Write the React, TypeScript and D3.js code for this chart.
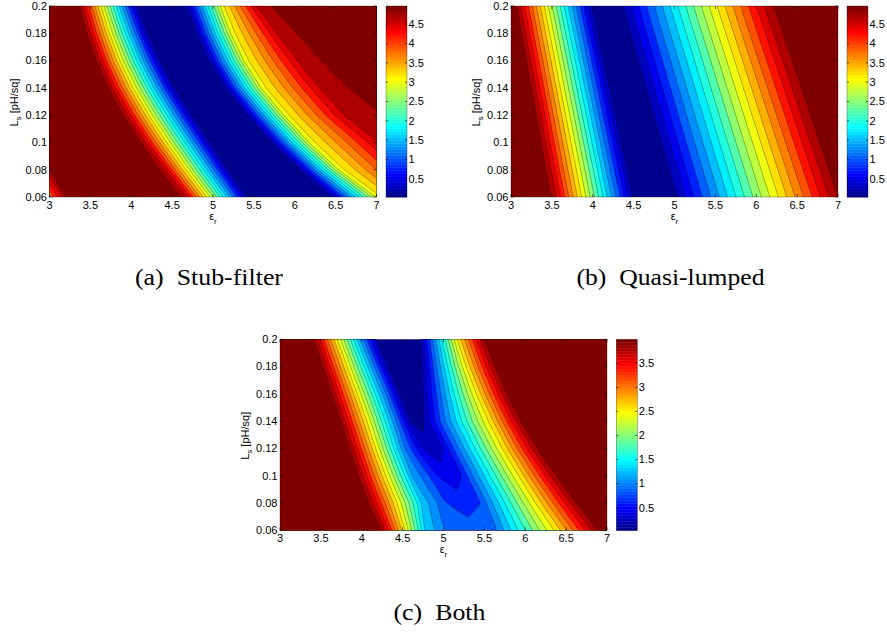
import React, { useMemo } from "react";
import * as d3 from "d3";

type Anchor = [number, number];

// Axis ticks
const epsTicks = [3, 3.5, 4, 4.5, 5, 5.5, 6, 6.5, 7];
const lsTicks = [0.06, 0.08, 0.1, 0.12, 0.14, 0.16, 0.18, 0.2];

// Sheet-inductance rows (pH/sq) at which each response profile is tabulated
const lsRows = [0.2, 0.18, 0.16, 0.14, 0.12, 0.1, 0.08, 0.06];

// Each row lists [epsilon_r, response] break points across the permittivity axis
const stubFilterRows: Anchor[][] = [
  [[3.0, 4.95], [3.18, 4.96], [3.373, 4.73], [4.07, 0.265], [4.375, 0.03], [4.68, 0.265], [5.11, 3.0], [5.53, 4.5], [5.68, 4.73], [7.0, 4.97]],
  [[3.0, 4.95], [3.23, 4.96], [3.462, 4.73], [4.2, 0.265], [4.5, 0.03], [4.8, 0.265], [5.24, 3.0], [5.78, 4.5], [6.0, 4.73], [7.0, 4.93]],
  [[3.0, 4.95], [3.29, 4.96], [3.577, 4.73], [4.35, 0.265], [4.65, 0.03], [4.95, 0.265], [5.4, 3.0], [6.03, 4.5], [6.3, 4.73], [7.0, 4.87]],
  [[3.0, 4.95], [3.36, 4.96], [3.728, 4.73], [4.53, 0.265], [4.84, 0.03], [5.15, 0.265], [5.61, 3.0], [6.3, 4.5], [6.63, 4.73], [7.0, 4.8]],
  [[3.0, 4.95], [3.45, 4.96], [3.911, 4.73], [4.74, 0.265], [5.08, 0.03], [5.42, 0.265], [5.89, 3.0], [6.6, 4.5], [7.06, 4.73], [7.5, 4.85]],
  [[3.0, 4.95], [3.56, 4.96], [4.128, 4.73], [4.96, 0.265], [5.34, 0.03], [5.72, 0.265], [6.2, 3.0], [7.02, 4.5], [7.2, 4.73], [7.6, 4.85]],
  [[3.0, 4.75], [3.05, 4.95], [4.372, 4.73], [5.18, 0.265], [5.625, 0.03], [6.07, 0.265], [6.56, 3.0], [7.38, 4.5], [7.5, 4.73], [7.8, 4.85]],
  [[3.0, 3.8], [3.25, 4.95], [4.637, 4.73], [5.41, 0.265], [5.93, 0.03], [6.45, 0.265], [7.02, 3.0], [7.77, 4.5], [7.9, 4.73], [8.2, 4.85]],
];

const quasiLumpedRows: Anchor[][] = [
  [[3.0, 4.97], [3.07, 4.73], [3.99, 0.265], [4.18, 0.03], [4.37, 0.265], [6.19, 4.73], [7.3, 4.97]],
  [[3.0, 4.95], [3.131, 4.73], [4.061, 0.265], [4.26, 0.03], [4.464, 0.265], [6.304, 4.73], [7.3, 4.95]],
  [[3.0, 4.94], [3.193, 4.73], [4.133, 0.265], [4.35, 0.03], [4.559, 0.265], [6.419, 4.73], [7.3, 4.94]],
  [[3.0, 4.93], [3.254, 4.73], [4.204, 0.265], [4.43, 0.03], [4.653, 0.265], [6.533, 4.73], [7.3, 4.93]],
  [[3.0, 4.92], [3.316, 4.73], [4.276, 0.265], [4.51, 0.03], [4.747, 0.265], [6.647, 4.73], [7.3, 4.92]],
  [[3.0, 4.91], [3.377, 4.73], [4.347, 0.265], [4.59, 0.03], [4.841, 0.265], [6.761, 4.73], [7.3, 4.91]],
  [[3.0, 4.9], [3.439, 4.73], [4.419, 0.265], [4.68, 0.03], [4.936, 0.265], [6.876, 4.73], [7.3, 4.9]],
  [[3.0, 4.9], [3.5, 4.73], [4.49, 0.265], [4.76, 0.03], [5.03, 0.265], [6.99, 4.73], [7.3, 4.9]],
];

const bothRows: Anchor[][] = [
  [[3.0, 3.98], [3.42, 3.81], [3.909, 1.5], [4.18, 0.219], [4.45, 0.03], [4.72, 0.219], [5.18, 2.55], [5.49, 3.81], [7.0, 4.0]],
  [[3.0, 3.97], [3.53, 3.81], [4.082, 1.3], [4.32, 0.219], [4.53, 0.05], [4.74, 0.219], [5.29, 2.55], [5.62, 3.81], [7.0, 3.99]],
  [[3.0, 3.96], [3.64, 3.81], [4.266, 1.1], [4.47, 0.219], [4.61, 0.09], [4.75, 0.219], [5.42, 2.55], [5.77, 3.81], [7.0, 3.98]],
  [[3.0, 3.95], [3.75, 3.81], [4.415, 1.0], [4.6, 0.219], [4.68, 0.15], [4.76, 0.219], [5.57, 2.55], [5.94, 3.81], [7.0, 3.97]],
  [[3.0, 3.94], [3.86, 3.81], [4.52, 1.0], [4.74, 0.408], [4.85, 0.31], [4.99, 0.408], [5.74, 2.55], [6.14, 3.81], [7.0, 3.96]],
  [[3.0, 3.93], [3.97, 3.81], [4.62, 1.15], [4.93, 0.597], [5.07, 0.5], [5.22, 0.597], [5.94, 2.55], [6.37, 3.81], [7.0, 3.95]],
  [[3.0, 3.92], [4.09, 3.81], [4.74, 1.3], [5.02, 0.8], [5.25, 0.69], [5.45, 0.786], [6.15, 2.55], [6.62, 3.81], [7.0, 3.94]],
  [[3.0, 3.91], [4.25, 3.81], [4.77, 1.35], [5.02, 0.975], [5.35, 0.88], [5.65, 0.975], [6.38, 2.55], [6.88, 3.81], [7.0, 3.93]],
];

// Colour limits of each panel and the colorbar ticks
const stubFilterRange: [number, number] = [0.03, 4.97];
const quasiLumpedRange: [number, number] = [0.03, 4.97];
const bothRange: [number, number] = [0.03, 4.0];
const fullBarTicks = [0.5, 1, 1.5, 2, 2.5, 3, 3.5, 4, 4.5];
const bothBarTicks = [0.5, 1, 1.5, 2, 2.5, 3, 3.5];
const levelCount = 20;

const EPS_DOMAIN: [number, number] = [3, 7];
const LS_DOMAIN: [number, number] = [0.06, 0.2];
const PLOT_W = 327;
const PLOT_H = 191;
const BAR_W = 21;
const NX = 328;
const NY = 192;
const SANS = "'Liberation Sans', Arial, Helvetica, sans-serif";
const SERIF = "'Liberation Serif', 'Times New Roman', serif";

// MATLAB-style jet colormap with m entries
function jetColormap(m: number): string[] {
  const n = Math.ceil(m / 4);
  const u: number[] = [];
  for (let i = 1; i <= n; i++) u.push(i / n);
  for (let i = 1; i < n; i++) u.push(1);
  for (let i = n; i >= 1; i--) u.push(i / n);
  const g0 = Math.ceil(n / 2) - (m % 4 === 1 ? 1 : 0);
  const table = Array.from({ length: m }, () => [0, 0, 0]);
  u.forEach((val, k) => {
    const gi = g0 + k + 1;
    const ri = gi + n;
    const bi = gi - n;
    if (ri >= 1 && ri <= m) table[ri - 1][0] = val;
    if (gi >= 1 && gi <= m) table[gi - 1][1] = val;
    if (bi >= 1 && bi <= m) table[bi - 1][2] = val;
  });
  return table.map(([r, g, b]) =>
    d3.rgb(Math.round(r * 255), Math.round(g * 255), Math.round(b * 255)).formatHex()
  );
}

const jet64 = jetColormap(64);
const bandColor = (k: number) => jet64[Math.round((k * 63) / levelCount)];

// Break points for an arbitrary L_s, blended between the two neighbouring rows
function profileAt(rows: Anchor[][], ls: number): Anchor[] {
  let i = 0;
  while (i < lsRows.length - 2 && ls < lsRows[i + 1]) i++;
  const t = (lsRows[i] - ls) / (lsRows[i] - lsRows[i + 1]);
  const a = rows[i];
  const b = rows[i + 1];
  return a.map((p, k) => [p[0] + t * (b[k][0] - p[0]), p[1] + t * (b[k][1] - p[1])] as Anchor);
}

function valueAt(p: Anchor[], e: number): number {
  if (e <= p[0][0]) return p[0][1];
  for (let k = 0; k < p.length - 1; k++) {
    const [x0, v0] = p[k];
    const [x1, v1] = p[k + 1];
    if (e <= x1) return x1 > x0 ? v0 + ((v1 - v0) * (e - x0)) / (x1 - x0) : v1;
  }
  return p[p.length - 1][1];
}

type PanelProps = {
  id: string;
  rows: Anchor[][];
  range: [number, number];
  barTicks: number[];
  left: number;
  top: number;
  barLeft: number;
};

function ContourPanel({ id, rows, range, barTicks, left, top, barLeft }: PanelProps) {
  const x = d3.scaleLinear().domain(EPS_DOMAIN).range([left, left + PLOT_W]);
  const y = d3.scaleLinear().domain(LS_DOMAIN).range([top + PLOT_H, top]);
  const bar = d3.scaleLinear().domain(range).range([top + PLOT_H, top]);

  const paths = useMemo(() => {
    const values: number[] = new Array(NX * NY);
    for (let j = 0; j < NY; j++) {
      const ls = LS_DOMAIN[1] - (j * (LS_DOMAIN[1] - LS_DOMAIN[0])) / (NY - 1);
      const p = profileAt(rows, ls);
      for (let i = 0; i < NX; i++) {
        const e = EPS_DOMAIN[0] + (i * (EPS_DOMAIN[1] - EPS_DOMAIN[0])) / (NX - 1);
        values[j * NX + i] = valueAt(p, e);
      }
    }
    const levels = d3
      .range(1, levelCount + 1)
      .map((k) => range[0] + (k * (range[1] - range[0])) / (levelCount + 1));
    const sets = d3.contours().size([NX, NY]).thresholds(levels)(values);
    const path = d3.geoPath(
      d3.geoTransform({
        point(gx: number, gy: number) {
          const e = EPS_DOMAIN[0] + ((gx - 0.5) * (EPS_DOMAIN[1] - EPS_DOMAIN[0])) / (NX - 1);
          const l = LS_DOMAIN[1] - ((gy - 0.5) * (LS_DOMAIN[1] - LS_DOMAIN[0])) / (NY - 1);
          (this as any).stream.point(x(e), y(l));
        },
      })
    );
    return sets.map((c) => path(c as any) ?? "");
  }, [rows, range, left, top]);

  const bottom = top + PLOT_H;
  const right = left + PLOT_W;
  const barStep = (range[1] - range[0]) / jet64.length;

  return (
    <g>
      <defs>
        <clipPath id={`clip-${id}`}>
          <rect x={left} y={top} width={PLOT_W} height={PLOT_H} />
        </clipPath>
      </defs>
      <g clipPath={`url(#clip-${id})`}>
        <rect x={left} y={top} width={PLOT_W} height={PLOT_H} fill={bandColor(0)} />
        {paths.map((d, k) => (
          <path
            key={k}
            d={d}
            fill={bandColor(k + 1)}
            stroke="#000"
            strokeWidth={0.5}
            strokeOpacity={0.6}
          />
        ))}
      </g>
      <rect x={left} y={top} width={PLOT_W} height={PLOT_H} fill="none" stroke="#000" strokeOpacity={0.6} strokeWidth={0.5} />
      {epsTicks.map((t) => (
        <g key={`xt${t}`}>
          <line x1={x(t)} x2={x(t)} y1={bottom} y2={bottom - 3} stroke="#000" strokeWidth={0.6} />
          <line x1={x(t)} x2={x(t)} y1={top} y2={top + 3} stroke="#000" strokeWidth={0.6} />
          <text x={x(t)} y={bottom + 12} textAnchor="middle" fontSize={11}>
            {String(t)}
          </text>
        </g>
      ))}
      {lsTicks.map((t) => (
        <g key={`yt${t}`}>
          <line x1={left} x2={left + 3} y1={y(t)} y2={y(t)} stroke="#000" strokeWidth={0.6} />
          <line x1={right} x2={right - 3} y1={y(t)} y2={y(t)} stroke="#000" strokeWidth={0.6} />
          <text x={left - 2.5} y={y(t)} dy="0.35em" textAnchor="end" fontSize={11}>
            {String(t)}
          </text>
        </g>
      ))}
      <text x={(left + right) / 2} y={bottom + 22.5} textAnchor="middle" fontSize={11}>
        ε<tspan fontSize={8} dy={4.5}>r</tspan>
      </text>
      <text
        transform={`translate(${left - 31.5},${top + PLOT_H / 2 + 1}) rotate(-90)`}
        textAnchor="middle"
        fontSize={11}
      >
        L<tspan fontSize={8} dy={3}>s</tspan>
        <tspan dy={-3}> [pH/sq]</tspan>
      </text>

      {jet64.map((c, i) => (
        <rect
          key={`cb${i}`}
          x={barLeft}
          y={bar(range[0] + (i + 1) * barStep)}
          width={BAR_W}
          height={bar(range[0] + i * barStep) - bar(range[0] + (i + 1) * barStep) + 0.4}
          fill={c}
        />
      ))}
      <rect x={barLeft} y={top} width={BAR_W} height={PLOT_H} fill="none" stroke="#000" strokeOpacity={0.6} strokeWidth={0.5} />
      {barTicks.map((t) => (
        <g key={`bt${t}`}>
          <line x1={barLeft} x2={barLeft + 2} y1={bar(t)} y2={bar(t)} stroke="#000" strokeWidth={0.6} />
          <line x1={barLeft + BAR_W} x2={barLeft + BAR_W - 2} y1={bar(t)} y2={bar(t)} stroke="#000" strokeWidth={0.6} />
          <text x={barLeft + BAR_W + 1.5} y={bar(t)} dy="0.35em" fontSize={11}>
            {String(t)}
          </text>
        </g>
      ))}
    </g>
  );
}

export default function App() {
  return (
    <svg
      width={887}
      height={632}
      style={{ position: "absolute", left: 0, top: 0, background: "#fff" }}
      fontFamily={SANS}
    >
      <rect width={887} height={632} fill="#fff" />
      <ContourPanel id="stub" rows={stubFilterRows} range={stubFilterRange} barTicks={fullBarTicks} left={49.5} top={6} barLeft={386} />
      <ContourPanel id="quasi" rows={quasiLumpedRows} range={quasiLumpedRange} barTicks={fullBarTicks} left={511} top={6} barLeft={847} />
      <ContourPanel id="both" rows={bothRows} range={bothRange} barTicks={bothBarTicks} left={280} top={339.3} barLeft={616.3} />

      <g fontFamily={SERIF} fontSize={24} textAnchor="middle">
        <text x={209} y={285} textLength={148} lengthAdjust="spacingAndGlyphs">
          (a){"\u00a0\u00a0"}Stub-filter
        </text>
        <text x={670.5} y={285} textLength={188} lengthAdjust="spacingAndGlyphs">
          (b){"\u00a0\u00a0"}Quasi-lumped
        </text>
        <text x={439.5} y={620} textLength={92} lengthAdjust="spacingAndGlyphs">
          (c){"\u00a0\u00a0"}Both
        </text>
      </g>
    </svg>
  );
}
